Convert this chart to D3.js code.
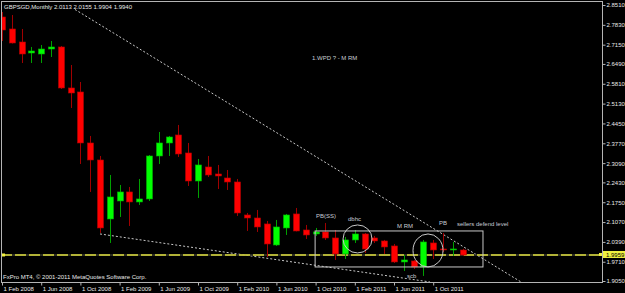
<!DOCTYPE html>
<html>
<head>
<meta charset="utf-8" />
<title>GBPSGD Monthly</title>
<script src="https://cdn.jsdelivr.net/npm/d3@7"></script>
<style>
    body { margin: 0; background: #000; }
    svg text { font-family: "Liberation Sans", Arial, sans-serif; }
</style>
</head>
<body>
<div id="chart"></div>
<script>

    let title = 'GBPSGD,Monthly  2.0113 2.0155 1.9904 1.9940';
    let copyright = 'FxPro MT4, \u00a9 2001-2011 MetaQuotes Software Corp.';

    // monthly candles, Feb 2008 .. Jan 2012
    let open = [2.8099, 2.7688, 2.7242, 2.6865, 2.6831, 2.7002, 2.7071, 2.5666, 2.5529, 2.3781,
        2.3198, 2.1176, 2.1793, 2.2102, 2.1759, 2.1862, 2.3335, 2.3781, 2.4055, 2.3438,
        2.2478, 2.2958, 2.2718, 2.2581, 2.2444, 2.1313, 2.1210, 2.1005, 2.0285, 2.0868,
        2.1348, 2.0799, 2.0662, 2.0731, 2.0525, 1.9977, 2.0457, 2.0662, 2.0525, 2.0422,
        2.0251, 1.9703, 1.9737, 1.9531, 2.0354, 2.0148, 2.0114, 2.0113];
    let high = [2.8270, 2.8167, 2.7688, 2.7071, 2.7139, 2.7276, 2.7105, 2.6454, 2.5871, 2.4021,
        2.3335, 2.2684, 2.2341, 2.2273, 2.2547, 2.3369, 2.4158, 2.4021, 2.4398, 2.3781,
        2.3232, 2.3335, 2.3027, 2.2855, 2.2547, 2.1382, 2.1485, 2.1108, 2.1142, 2.1348,
        2.1553, 2.0971, 2.0868, 2.1039, 2.0799, 2.0559, 2.0799, 2.0696, 2.0594, 2.0457,
        2.0319, 1.9942, 1.9771, 2.0457, 2.0457, 2.0696, 2.0388, 2.0155];
    let low = [2.7276, 2.7190, 2.6522, 2.6522, 2.6522, 2.6728, 2.5631, 2.4980, 2.3061, 2.2102,
        2.0696, 2.0354, 2.1245, 2.0936, 2.1656, 2.1793, 2.3061, 2.3335, 2.3301, 2.2307,
        2.1896, 2.2616, 2.2204, 2.2170, 2.1279, 2.0765, 2.0731, 1.9874, 2.0251, 2.0628,
        2.0750, 2.0491, 2.0594, 2.0457, 1.9771, 1.9805, 2.0354, 2.0011, 2.0354, 1.9977,
        1.9668, 1.9394, 1.9463, 1.9223, 1.9805, 2.0045, 1.9908, 1.9904];
    let close = [2.7653, 2.7208, 2.6831, 2.6934, 2.7002, 2.7071, 2.5666, 2.5494, 2.3781, 2.3198,
        2.0868, 2.1930, 2.2102, 2.1759, 2.1862, 2.3335, 2.3781, 2.3986, 2.3404, 2.2478,
        2.3027, 2.2684, 2.2650, 2.2444, 2.1382, 2.1210, 2.0902, 2.0319, 2.0902, 2.1313,
        2.0765, 2.0628, 2.0731, 2.0525, 1.9977, 2.0457, 2.0662, 2.0148, 2.0422, 2.0217,
        1.9703, 1.9771, 1.9531, 2.0388, 2.0114, 2.0114, 2.0148, 1.9940];

    let dateTicks = [0, 4, 8, 12, 16, 20, 24, 28, 32, 36, 40, 44];
    let dateLabels = ['1 Feb 2008', '1 Jun 2008', '1 Oct 2008', '1 Feb 2009', '1 Jun 2009', '1 Oct 2009',
        '1 Feb 2010', '1 Jun 2010', '1 Oct 2010', '1 Feb 2011', '1 Jun 2011', '1 Oct 2011'];
    let priceTicks = [2.8510, 2.7830, 2.7150, 2.6490, 2.5810, 2.5130, 2.4450, 2.3770,
        2.3090, 2.2430, 2.1750, 2.1070, 2.0390, 1.9710, 1.9050];
    let bid = 1.9959;

    // drawn objects, [bar index, price]
    let trendUpper = [[7.45, 2.8356], [52.96, 1.9017]];
    let trendLower = [[10.0, 2.0662], [43.67, 1.9017]];
    let boxCorners = [[31.95, 2.0765], [49.08, 1.9531]];
    let circles = [[36.28, 2.0491], [43.47, 2.0097]];
    let noteText = ['1.WPD ? - M RM', 'PB(SS)', 'dbhc', 'M RM', 'PB', 'sellers defend level', 'scb'];
    let noteAt = [[31.63, 2.6694], [32.04, 2.1279], [35.31, 2.1176], [40.31, 2.0936],
        [44.59, 2.1039], [46.43, 2.1005], [41.33, 1.9223]];

    let W = 625, H = 293;
    let plot = { left: 1, right: 602, top: 1, bottom: 282 };

    let svg = d3.select('#chart').append('svg')
        .attr('width', W)
        .attr('height', H)
        .style('background', '#000');

    let x = d3.scaleLinear().domain([0, 47]).range([2, 462.6]);
    let y = d3.scaleLinear().domain([1.905, 2.851]).range([281, 5]);

    svg.append('clipPath').attr('id', 'clip')
        .append('rect')
        .attr('x', plot.left).attr('y', plot.top)
        .attr('width', plot.right - plot.left).attr('height', plot.bottom - plot.top);

    let g = svg.append('g').attr('clip-path', 'url(#clip)');

    // trend lines
    let line = d3.line().x(d => x(d[0])).y(d => y(d[1]));
    [trendUpper, trendLower].forEach(t => {
        g.append('path')
            .attr('d', line(t))
            .attr('fill', 'none')
            .attr('stroke', '#c8c8c8')
            .attr('stroke-width', 1)
            .attr('stroke-dasharray', '2,2');
    });

    // bid line
    g.append('line')
        .attr('x1', plot.left).attr('x2', plot.right)
        .attr('y1', y(bid) + 0.5).attr('y2', y(bid) + 0.5)
        .attr('stroke', '#3a3a2a').attr('stroke-width', 1.5);
    g.append('line')
        .attr('x1', plot.left).attr('x2', plot.right)
        .attr('y1', y(bid) + 0.5).attr('y2', y(bid) + 0.5)
        .attr('stroke', '#e0e040').attr('stroke-width', 1.5)
        .attr('stroke-dasharray', '11,3');
    g.append('rect')
        .attr('x', plot.left + 1).attr('y', y(bid) - 1)
        .attr('width', 3).attr('height', 3)
        .attr('fill', '#f0f040');

    // candles
    let idx = d3.range(open.length);
    let up = i => close[i] >= open[i];

    g.selectAll('.wick')
        .data(idx)
        .enter().append('line')
        .attr('class', 'wick')
        .attr('x1', i => Math.round(x(i)) + 0.5)
        .attr('x2', i => Math.round(x(i)) + 0.5)
        .attr('y1', i => y(high[i]))
        .attr('y2', i => y(low[i]))
        .attr('stroke', i => up(i) ? '#00a000' : '#a00000')
        .attr('stroke-width', 1);

    g.selectAll('.body')
        .data(idx)
        .enter().append('rect')
        .attr('class', 'body')
        .attr('x', i => Math.round(x(i)) - 2.5)
        .attr('width', 6)
        .attr('y', i => y(Math.max(open[i], close[i])))
        .attr('height', i => Math.max(1, Math.abs(y(open[i]) - y(close[i]))))
        .attr('fill', i => up(i) ? '#00ff00' : '#ff0000')
        .attr('stroke', i => up(i) ? '#00b000' : '#b00000')
        .attr('stroke-width', 0.6);

    // box and circles
    g.append('rect')
        .attr('x', x(boxCorners[0][0]))
        .attr('y', y(boxCorners[0][1]))
        .attr('width', x(boxCorners[1][0]) - x(boxCorners[0][0]))
        .attr('height', y(boxCorners[1][1]) - y(boxCorners[0][1]))
        .attr('fill', 'none')
        .attr('stroke', '#c8c8c8')
        .attr('stroke-width', 1);

    g.selectAll('.ring')
        .data(circles)
        .enter().append('ellipse')
        .attr('class', 'ring')
        .attr('cx', d => x(d[0]))
        .attr('cy', d => y(d[1]))
        .attr('rx', (d, i) => i == 0 ? 14.5 : 15)
        .attr('ry', (d, i) => i == 0 ? 14 : 16.5)
        .attr('fill', 'none')
        .attr('stroke', '#c8c8c8')
        .attr('stroke-width', 1);

    g.selectAll('.note')
        .data(noteText)
        .enter().append('text')
        .attr('class', 'note')
        .attr('x', (d, i) => x(noteAt[i][0]))
        .attr('y', (d, i) => y(noteAt[i][1]))
        .attr('dy', '0.35em')
        .attr('font-size', '6px')
        .attr('fill', '#c8ccd4')
        .text(d => d);

    // frame
    svg.append('rect')
        .attr('x', plot.left + 0.5).attr('y', plot.top + 0.5)
        .attr('width', plot.right - plot.left).attr('height', plot.bottom - plot.top)
        .attr('fill', 'none')
        .attr('stroke', '#b4b4b4')
        .attr('stroke-width', 1);

    // price axis
    let yAxis = d3.axisRight(y)
        .tickValues(priceTicks)
        .tickSize(3)
        .tickPadding(1)
        .tickFormat(d3.format('.4f'));
    let gy = svg.append('g')
        .attr('transform', 'translate(' + (plot.right + 0.5) + ',0)')
        .call(yAxis);
    gy.select('.domain').remove();
    gy.selectAll('line').attr('stroke', '#b4b4b4');
    gy.selectAll('text').attr('fill', '#e8e8e8').attr('font-size', '6px').attr('font-family', null);

    // bid price label
    svg.append('rect')
        .attr('x', plot.right - 3).attr('y', y(bid) - 1.5)
        .attr('width', 3).attr('height', 3)
        .attr('fill', '#f0f040');
    svg.append('rect')
        .attr('x', plot.right + 1).attr('y', y(bid) - 3.5)
        .attr('width', W - plot.right - 1).attr('height', 7)
        .attr('fill', '#f0f040');
    svg.append('text')
        .attr('x', plot.right + 4).attr('y', y(bid))
        .attr('dy', '0.35em')
        .attr('font-size', '6px')
        .attr('fill', '#000')
        .text(d3.format('.4f')(bid));

    // time axis
    let xAxis = d3.axisBottom(x)
        .tickValues(dateTicks)
        .tickSize(3)
        .tickPadding(1)
        .tickFormat((d, i) => dateLabels[i]);
    let gx = svg.append('g')
        .attr('transform', 'translate(0,' + (plot.bottom + 0.5) + ')')
        .call(xAxis);
    gx.select('.domain').remove();
    gx.selectAll('line').attr('stroke', '#b4b4b4');
    gx.selectAll('text')
        .attr('text-anchor', 'start')
        .attr('dx', 1)
        .attr('fill', '#e8e8e8')
        .attr('font-size', '6px')
        .attr('font-family', null);

    svg.append('text')
        .attr('x', 4).attr('y', 9)
        .attr('font-size', '6px')
        .attr('fill', '#e8e8e8')
        .text(title);

    svg.append('text')
        .attr('x', 3).attr('y', 279)
        .attr('font-size', '6px')
        .attr('fill', '#e8e8e8')
        .text(copyright);

</script>
</body>
</html>
